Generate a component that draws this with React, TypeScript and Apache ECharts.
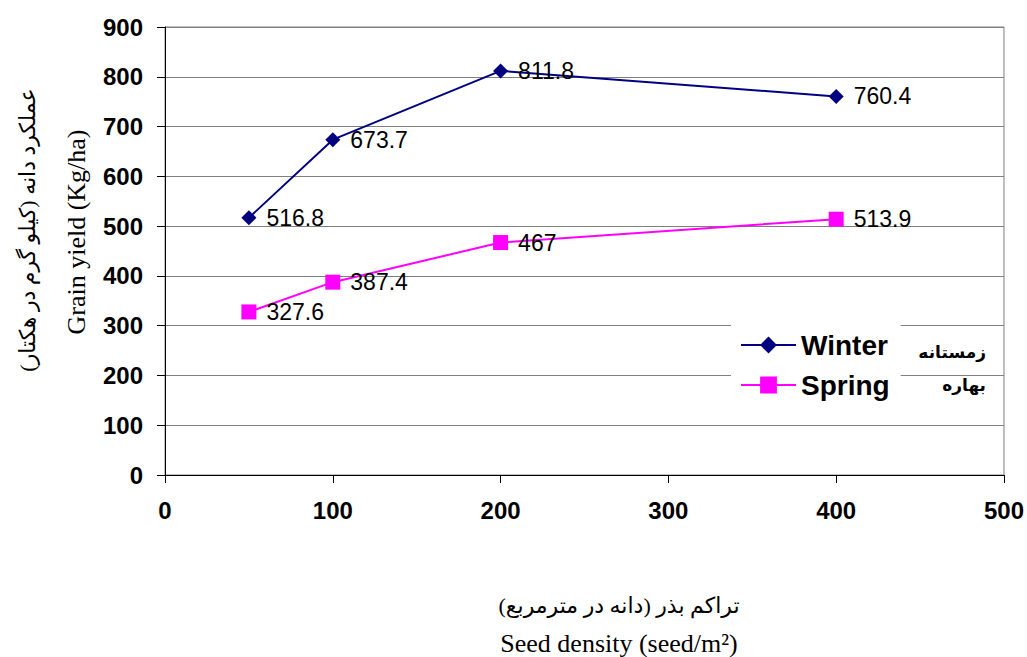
import React, { useEffect, useRef } from "react";
import * as echarts from "echarts";

const densities = [50, 100, 200, 400];
const winterYield = [516.8, 673.7, 811.8, 760.4];
const springYield = [327.6, 387.4, 467, 513.9];
const seriesNames = ["Winter", "Spring"];
const persianLegend = ["زمستانه", "بهاره"];
const yTitleFa = "عملکرد دانه (کیلو گرم در هکتار)";
const yTitleEn = "Grain yield (Kg/ha)";
const xTitleFa = "تراکم بذر (دانه در مترمربع)";
const xTitleEn = "Seed density (seed/m²)";

export default function App() {
  const ref = useRef<HTMLDivElement>(null);
  useEffect(() => {
    if (!ref.current) return;
    const chart = echarts.init(ref.current, null, { renderer: "svg" });
    const serif = "'Liberation Serif', 'Times New Roman', 'DejaVu Sans', serif";
    const sans = "'Liberation Sans', Arial, sans-serif";
    const labelCfg = {
      show: true,
      position: "right" as const,
      distance: 10,
      color: "#000",
      fontFamily: sans,
      fontSize: 23,
    };
    chart.setOption({
      animation: false,
      backgroundColor: "#fff",
      grid: {
        left: 165,
        right: 22,
        top: 27,
        bottom: 182,
        show: true,
        borderColor: "#808080",
        borderWidth: 1,
      },
      xAxis: {
        type: "value",
        min: 0,
        max: 500,
        interval: 100,
        axisLine: { show: true, lineStyle: { color: "#000", width: 1 } },
        axisTick: { show: true, length: 8, lineStyle: { color: "#000" } },
        splitLine: { show: false },
        axisLabel: {
          margin: 23,
          color: "#000",
          fontWeight: "bold",
          fontSize: 24,
          fontFamily: sans,
        },
      },
      yAxis: {
        type: "value",
        min: 0,
        max: 900,
        interval: 100,
        axisLine: { show: true, lineStyle: { color: "#000", width: 1 } },
        axisTick: { show: true, length: 8, inside: false, lineStyle: { color: "#000" } },
        splitLine: { show: true, lineStyle: { color: "#808080", width: 1 } },
        axisLabel: {
          margin: 22,
          color: "#000",
          fontWeight: "bold",
          fontSize: 24,
          fontFamily: sans,
        },
      },
      legend: {
        orient: "vertical",
        left: 731,
        top: 320,
        padding: [11, 11, 11, 9],
        backgroundColor: "#fff",
        itemWidth: 55,
        itemHeight: 21,
        itemGap: 12,
        itemTextGap: 5,
        textStyle: {
          color: "#000",
          fontWeight: "bold",
          fontSize: 28,
          fontFamily: sans,
        },
        data: seriesNames,
      },
      series: [
        {
          name: seriesNames[0],
          type: "line",
          data: densities.map((d, i) => [d, winterYield[i]]),
          symbol: "diamond",
          symbolSize: 15,
          lineStyle: { color: "#000080", width: 2 },
          itemStyle: { color: "#000080" },
          label: labelCfg,
        },
        {
          name: seriesNames[1],
          type: "line",
          data: densities.map((d, i) => [d, springYield[i]]),
          symbol: "rect",
          symbolSize: 15,
          lineStyle: { color: "#FF00FF", width: 2 },
          itemStyle: { color: "#FF00FF" },
          label: labelCfg,
        },
      ],
      graphic: [
        {
          type: "text",
          x: 986,
          y: 352,
          style: {
            text: persianLegend[0],
            align: "right",
            verticalAlign: "middle",
            fontSize: 17,
            fontWeight: "bold",
            fontFamily: "'DejaVu Sans', sans-serif",
            fill: "#000",
          },
        },
        {
          type: "text",
          x: 986,
          y: 385,
          style: {
            text: persianLegend[1],
            align: "right",
            verticalAlign: "middle",
            fontSize: 17,
            fontWeight: "bold",
            fontFamily: "'DejaVu Sans', sans-serif",
            fill: "#000",
          },
        },
        {
          type: "text",
          x: 27,
          y: 230,
          rotation: Math.PI / 2,
          style: {
            text: yTitleFa,
            align: "center",
            verticalAlign: "middle",
            fontSize: 22,
            fontFamily: serif,
            fill: "#000",
          },
        },
        {
          type: "text",
          x: 76,
          y: 232,
          rotation: Math.PI / 2,
          style: {
            text: yTitleEn,
            align: "center",
            verticalAlign: "middle",
            fontSize: 26,
            fontFamily: serif,
            fill: "#000",
          },
        },
        {
          type: "text",
          x: 619,
          y: 605,
          style: {
            text: xTitleFa,
            align: "center",
            verticalAlign: "middle",
            fontSize: 22,
            fontFamily: serif,
            fill: "#000",
          },
        },
        {
          type: "text",
          x: 619,
          y: 643,
          style: {
            text: xTitleEn,
            align: "center",
            verticalAlign: "middle",
            fontSize: 26,
            fontFamily: serif,
            fill: "#000",
          },
        },
      ],
    });
    return () => chart.dispose();
  }, []);
  return (
    <div
      ref={ref}
      style={{ position: "absolute", left: 0, top: 0, width: 1027, height: 657 }}
    />
  );
}
